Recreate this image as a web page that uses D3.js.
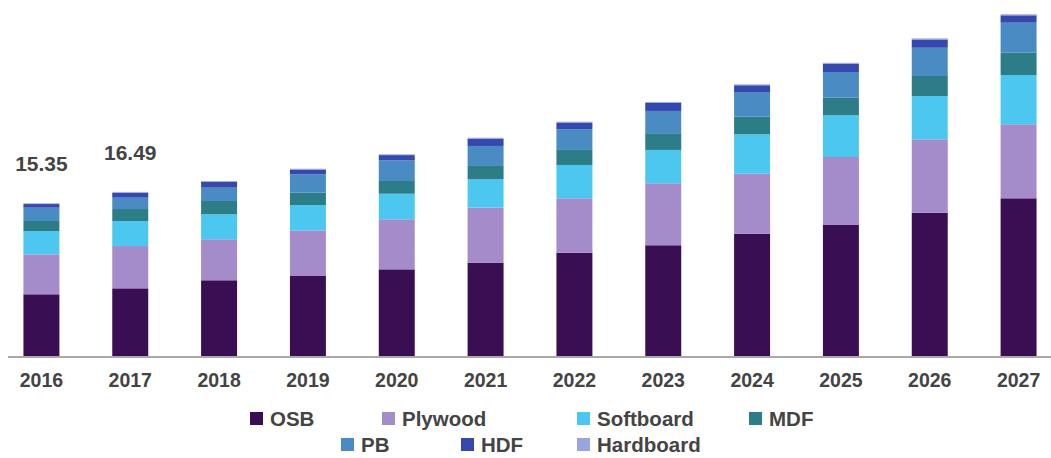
<!DOCTYPE html>
<html>
<head>
<meta charset="utf-8">
<script src="https://cdn.jsdelivr.net/npm/d3@7"></script>
<style>
  html, body { margin: 0; padding: 0; background: #ffffff; }
  svg { display: block; }
  text { font-family: "Liberation Sans", Arial, sans-serif; }
</style>
</head>
<body>
<svg id="chart" width="1051" height="458"></svg>
<script>
// Wood-based panel market, by product, 2016-2027
const years = ["2016", "2017", "2018", "2019", "2020", "2021", "2022", "2023", "2024", "2025", "2026", "2027"];
const seriesNames = ["OSB", "Plywood", "Softboard", "MDF", "PB", "HDF", "Hardboard"];

const osb       = [6.20, 6.80, 7.61, 8.04, 8.71, 9.38, 10.38, 11.13, 12.29, 13.17, 14.40, 15.85];
const plywood   = [4.02, 4.25, 4.12, 4.59, 5.03, 5.53, 5.47, 6.23, 6.03, 6.83, 7.38, 7.44];
const softboard = [2.34, 2.51, 2.51, 2.54, 2.57, 2.85, 3.35, 3.35, 3.96, 4.19, 4.35, 4.95];
const mdf       = [1.01, 1.21, 1.34, 1.24, 1.28, 1.34, 1.58, 1.68, 1.77, 1.77, 2.01, 2.24];
const pb        = [1.34, 1.14, 1.34, 1.85, 2.08, 2.01, 2.01, 2.24, 2.48, 2.58, 2.84, 3.02];
const hdf       = [0.36, 0.50, 0.58, 0.48, 0.52, 0.73, 0.67, 0.80, 0.68, 0.82, 0.83, 0.74];
const hardboard = [0.08, 0.08, 0.09, 0.08, 0.08, 0.10, 0.09, 0.10, 0.09, 0.11, 0.11, 0.10];

// Years whose total is printed above the bar
const labelledYears = ["2016", "2017"];

const colors = ["#3a0e52", "#a48bc9", "#4cc8f0", "#2c7d87", "#4a8bc3", "#3548ad", "#9aa5de"];

const seriesValues = [osb, plywood, softboard, mdf, pb, hdf, hardboard];
const table = years.map((yr, i) => {
  const row = { year: yr };
  seriesNames.forEach((s, k) => { row[s] = seriesValues[k][i]; });
  return row;
});

const svg = d3.select("#chart");
const baseY = 356;

const x = d3.scaleBand()
  .domain(years)
  .range([-3, 1063])
  .paddingInner(0.595)
  .paddingOuter(0.2975);

const y = d3.scaleLinear()
  .domain([0, 35])
  .range([baseY, baseY - 348.25]);

const color = d3.scaleOrdinal().domain(seriesNames).range(colors);

const stacked = d3.stack().keys(seriesNames)(table);

svg.append("g")
  .selectAll("g")
  .data(stacked)
  .join("g")
    .attr("fill", d => color(d.key))
  .selectAll("rect")
  .data(d => d)
  .join("rect")
    .attr("x", d => x(d.data.year))
    .attr("width", x.bandwidth())
    .attr("y", d => y(d[1]))
    .attr("height", d => y(d[0]) - y(d[1]));

// Baseline
svg.append("line")
  .attr("x1", 8).attr("x2", 1051)
  .attr("y1", baseY + 1).attr("y2", baseY + 1)
  .attr("stroke", "#a9a9a9")
  .attr("stroke-width", 2);

// Year labels
const xAxis = d3.axisBottom(x).tickSize(0).tickPadding(0);
const axisG = svg.append("g")
  .attr("transform", `translate(0,${baseY})`)
  .call(xAxis);
axisG.select(".domain").remove();
axisG.selectAll("text")
  .attr("dy", null)
  .attr("y", 31)
  .attr("fill", "#444444")
  .attr("font-size", 19.5)
  .attr("font-weight", "bold");

// Totals above the first bars
const totals = table.map(r => ({ year: r.year, total: d3.sum(seriesNames, s => r[s]) }));
svg.append("g")
  .selectAll("text")
  .data(totals.filter(t => labelledYears.includes(t.year)))
  .join("text")
    .attr("x", d => x(d.year) + x.bandwidth() / 2)
    .attr("y", d => y(d.total) - 32)
    .attr("text-anchor", "middle")
    .attr("font-size", 21)
    .attr("font-weight", "bold")
    .attr("fill", "#444444")
    .text(d => d3.format(".2f")(d.total));

// Legend, two centred rows
const legendRows = [
  { y: 419, items: [["OSB", 250], ["Plywood", 382], ["Softboard", 577], ["MDF", 749]] },
  { y: 445, items: [["PB", 341], ["HDF", 461], ["Hardboard", 577]] }
];
const legend = svg.append("g");
legendRows.forEach(row => {
  const g = legend.append("g");
  row.items.forEach(([name, lx]) => {
    g.append("rect")
      .attr("x", lx).attr("y", row.y - 7)
      .attr("width", 13).attr("height", 13)
      .attr("fill", color(name));
    g.append("text")
      .attr("x", lx + 20).attr("y", row.y + 7)
      .attr("font-size", 20.5)
      .attr("font-weight", "bold")
      .attr("fill", "#444444")
      .text(name);
  });
});
</script>
</body>
</html>
